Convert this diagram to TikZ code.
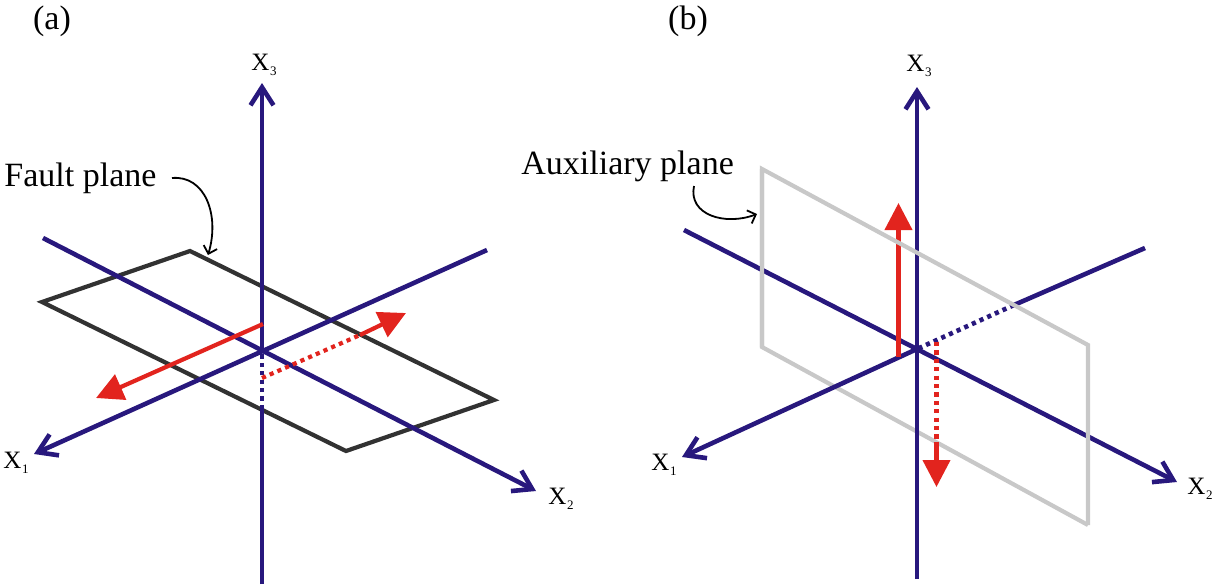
\documentclass[tikz,border=0pt]{standalone}
\usepackage{fontspec}
\setmainfont{Liberation Serif}
\usetikzlibrary{arrows.meta}
\definecolor{axisblue}{RGB}{40,24,125}
\definecolor{arrred}{RGB}{226,36,30}
\definecolor{planeblack}{RGB}{50,50,50}
\definecolor{planegray}{RGB}{200,200,200}
\newcommand{\axlab}[1]{X\kern0.3pt\raisebox{-2.5pt}{\fontsize{6.5}{7}\selectfont #1}}
\begin{document}
\begin{tikzpicture}[x=0.5pt,y=-0.5pt,
  axis/.style={draw=axisblue, line width=2.3pt},
  axisarrow/.style={axis, -{Straight Barb[length=9pt,width=11.5pt]}},
  dotline/.style={dash pattern=on 2.1pt off 2.1pt},
  redline/.style={draw=arrred, line width=2.1pt},
  redarrow/.style={redline, -{Triangle[length=13.5pt,width=13.5pt]}},
  planeA/.style={draw=planeblack, line width=2.1pt, line join=miter},
  planeB/.style={draw=planegray, line width=2.1pt, line join=miter},
  axlbl/.style={font=\fontsize{12.5}{14}\selectfont, inner sep=0pt},
  bigtxt/.style={font=\fontsize{17}{20}\selectfont, inner sep=0pt},
  pointer/.style={draw=black, line width=0.9pt, -{Straight Barb[length=3.5pt,width=7pt]}}
]
\useasboundingbox (0,0) rectangle (1212,586);

% ---------------- panel (a) ----------------
\node[bigtxt] (lblA) at (52,21) {(a)};
\node[bigtxt, anchor=base west] (fault) at (4,186) {Fault plane};

\coordinate (Oa) at (262,350);
\coordinate (a3top) at (262,83);
\coordinate (a3bot) at (262,584);
\coordinate (aDot) at (262,409);
\coordinate (a1tip) at (34,454);
\coordinate (a1end) at (487,250);
\coordinate (a2start) at (43,238);
\coordinate (a2tip) at (536,491);
\coordinate (aP1) at (42,302);
\coordinate (aP2) at (190,251);
\coordinate (aP3) at (494,400);
\coordinate (aP4) at (346,451);

\draw[planeA] (aP1) -- (aP2) -- (aP3) -- (aP4) -- cycle;

\draw[axis] (a3bot) -- (aDot);
\draw[axis, dotline] (aDot) -- (Oa);
\draw[axisarrow] (Oa) -- (a3top);
\draw[axisarrow] (a1end) -- (a1tip);
\draw[axisarrow] (a2start) -- (a2tip);

\coordinate (ar1s) at (263,324);
\coordinate (ar1e) at (96,398);
\coordinate (ar2s) at (262,378);
\coordinate (ar2m) at (360,335);
\coordinate (ar2e) at (406,313);
\draw[redarrow] (ar1s) -- (ar1e);
\draw[redline, dotline] (ar2s) -- (ar2m);
\draw[redarrow] (ar2m) -- (ar2e);

\node[axlbl] (x3a) at (264,65) {\axlab{3}};
\node[axlbl] (x1a) at (16,463) {\axlab{1}};
\node[axlbl] (x2a) at (561,499) {\axlab{2}};

\coordinate (fpS) at (172,178);
\coordinate (fpE) at (208,255);
\draw[pointer] (fpS) .. controls (205,175) and (220,215) .. (fpE);

% ---------------- panel (b) ----------------
\node[bigtxt] (lblB) at (688,21) {(b)};
\node[bigtxt, anchor=base west] (aux) at (521,174) {Auxiliary plane};

\coordinate (Ob) at (917,349);
\coordinate (b3top) at (917,87);
\coordinate (b3bot) at (917,579);
\coordinate (b1tip) at (682,457);
\coordinate (b1end) at (1145,248);
\coordinate (b1cross) at (1014,305);
\coordinate (b2start) at (684,230);
\coordinate (b2tip) at (1177,482);
\coordinate (bP1) at (762,169);
\coordinate (bP2) at (1088,345);
\coordinate (bP3) at (1088,525);
\coordinate (bP4) at (762,347);

\draw[planeB] (bP1) -- (bP4) -- (bP3);

\draw[axisarrow] (b3bot) -- (b3top);
\draw[axis] (b1end) -- (b1cross);
\draw[axis, dotline] (b1cross) -- (Ob);
\draw[axisarrow] (Ob) -- (b1tip);
\draw[axisarrow] (b2start) -- (b2tip);

\coordinate (br1s) at (898.5,357);
\coordinate (br1e) at (898.5,203);
\coordinate (br2s) at (936.5,342);
\coordinate (br2m) at (936.5,442);
\coordinate (br2e) at (936.5,487);
\draw[redarrow] (br1s) -- (br1e);
\draw[redline, dotline] (br2s) -- (br2m);
\draw[redarrow] (br2m) -- (br2e);

\draw[planeB] (bP4) -- (bP1) -- (bP2) -- (bP3);

\node[axlbl] (x3b) at (919,66) {\axlab{3}};
\node[axlbl] (x1b) at (664,465) {\axlab{1}};
\node[axlbl, anchor=west] (x2b) at (1187,489) {\axlab{2}};

\coordinate (apS) at (694,186);
\coordinate (apE) at (757,214);
\draw[pointer] (apS) .. controls (688,215) and (725,226) .. (apE);
\end{tikzpicture}
\end{document}
